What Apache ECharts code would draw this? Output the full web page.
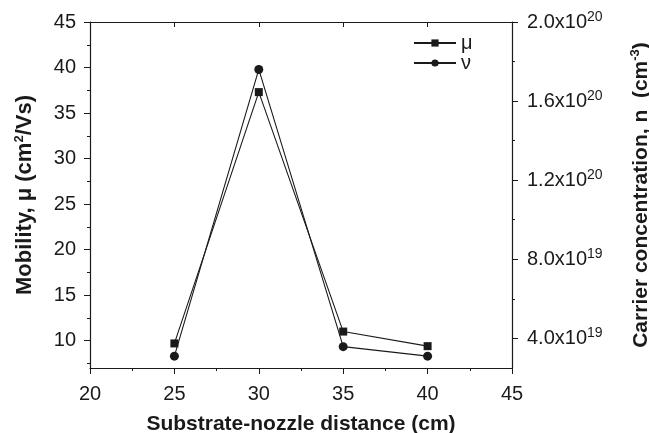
<!DOCTYPE html>
<html>
<head>
<meta charset="utf-8">
<script src="https://cdn.jsdelivr.net/npm/echarts@6/dist/echarts.min.js"></script>
<style>
  html, body { margin: 0; padding: 0; background: #fff; }
  #chart { width: 649px; height: 433px; }
</style>
</head>
<body>
<div id="chart"></div>
<script>
// data
var distance = [25, 30, 35, 40];
var mobility = [9.7, 37.3, 11.0, 9.4];
var carrier = [3.1e19, 1.76e20, 3.58e19, 3.1e19];

// tick values
var leftTicks = [10, 15, 20, 25, 30, 35, 40, 45];
var leftMinor = [7.5, 12.5, 17.5, 22.5, 27.5, 32.5, 37.5, 42.5];
var rightTicks = [4e19, 8e19, 1.2e20, 1.6e20, 2e20];
var rightMinor = [6e19, 1e20, 1.4e20, 1.8e20];

var font = 'Liberation Sans, Arial, sans-serif';
var ink = '#1a1a1a';

function sci(v) {
    var e = Math.floor(Math.log10(v) + 1e-9);
    var m = v / Math.pow(10, e);
    return m.toFixed(1) + 'x10{sup|' + e + '}';
}

var supStyle = { fontFamily: font, fontSize: 13, fontWeight: 'bold', color: ink, verticalAlign: 'top', lineHeight: 24 };

var myChart = echarts.init(document.getElementById('chart'));
var option = {
    animation: false,
    backgroundColor: '#fff',
    grid: {
        left: 90,
        right: 137,
        top: 22,
        bottom: 65,
        outerBoundsMode: 'none'
    },
    legend: {
        orient: 'vertical',
        left: 408,
        top: 28,
        itemWidth: 42,
        itemHeight: 9,
        itemGap: 0,
        textStyle: { fontFamily: font, fontSize: 20, lineHeight: 16, color: ink },
        data: ['μ', 'ν']
    },
    xAxis: [
        {
            type: 'value',
            min: 20,
            max: 45,
            interval: 5,
            name: 'Substrate-nozzle distance (cm)',
            nameLocation: 'middle',
            nameGap: 46,
            nameTextStyle: { fontFamily: font, fontSize: 21, fontWeight: 'bold', color: ink },
            axisLine: { lineStyle: { color: ink, width: 1.2 } },
            axisTick: { inside: false, length: 6, lineStyle: { color: ink } },
            minorTick: { show: true, splitNumber: 2, length: 3, lineStyle: { color: ink } },
            axisLabel: { margin: 16, fontFamily: font, fontSize: 20, color: ink },
            splitLine: { show: false }
        },
        {
            type: 'value',
            position: 'top',
            min: 20,
            max: 45,
            interval: 5,
            axisLine: { lineStyle: { color: ink, width: 1.2 } },
            axisTick: { inside: true, length: 5, lineStyle: { color: ink } },
            minorTick: { show: false },
            axisLabel: { show: false },
            splitLine: { show: false }
        }
    ],
    yAxis: [
        {
            type: 'value',
            position: 'left',
            min: 7,
            max: 45,
            name: 'Mobility, μ (cm{sup|2}/Vs)',
            nameLocation: 'middle',
            nameRotate: 90,
            nameGap: 53,
            nameTextStyle: {
                fontFamily: font, fontSize: 22, fontWeight: 'bold', color: ink,
                rich: { sup: supStyle }
            },
            axisLine: { show: true, lineStyle: { color: ink, width: 1.2 } },
            axisTick: { show: true, length: 6, customValues: leftTicks, lineStyle: { color: ink } },
            axisLabel: { margin: 14, fontFamily: font, fontSize: 20, color: ink, customValues: leftTicks },
            splitLine: { show: false }
        },
        {
            type: 'value',
            position: 'left',
            min: 7,
            max: 45,
            axisLine: { show: false },
            axisTick: { show: true, length: 3, customValues: leftMinor, lineStyle: { color: ink } },
            axisLabel: { show: false },
            splitLine: { show: false }
        },
        {
            type: 'value',
            position: 'right',
            min: 2.5e19,
            max: 2e20,
            name: 'Carrier concentration, n  (cm{sup|-3})',
            nameLocation: 'middle',
            nameRotate: 90,
            nameGap: 117,
            nameTextStyle: {
                fontFamily: font, fontSize: 21, fontWeight: 'bold', color: ink,
                rich: { sup: supStyle }
            },
            axisLine: { show: true, lineStyle: { color: ink, width: 1.2 } },
            axisTick: { show: true, length: 6, customValues: rightTicks, lineStyle: { color: ink } },
            axisLabel: {
                margin: 15,
                fontFamily: font,
                fontSize: 20,
                color: ink,
                customValues: rightTicks,
                formatter: sci,
                rich: { sup: { fontFamily: font, fontSize: 14, color: ink, verticalAlign: 'top', lineHeight: 24 } }
            },
            splitLine: { show: false }
        },
        {
            type: 'value',
            position: 'right',
            min: 2.5e19,
            max: 2e20,
            axisLine: { show: false },
            axisTick: { show: true, length: 3, customValues: rightMinor, lineStyle: { color: ink } },
            axisLabel: { show: false },
            splitLine: { show: false }
        }
    ],
    series: [
        {
            name: 'μ',
            type: 'line',
            xAxisIndex: 0,
            yAxisIndex: 0,
            symbol: 'rect',
            symbolSize: 8,
            itemStyle: { color: ink },
            lineStyle: { color: ink, width: 1.1 },
            data: distance.map(function (d, i) { return [d, mobility[i]]; })
        },
        {
            name: 'ν',
            type: 'line',
            xAxisIndex: 0,
            yAxisIndex: 2,
            symbol: 'circle',
            symbolSize: 9,
            itemStyle: { color: ink },
            lineStyle: { color: ink, width: 1.1 },
            data: distance.map(function (d, i) { return [d, carrier[i]]; })
        }
    ]
};

myChart.setOption(option);
</script>
</body>
</html>
